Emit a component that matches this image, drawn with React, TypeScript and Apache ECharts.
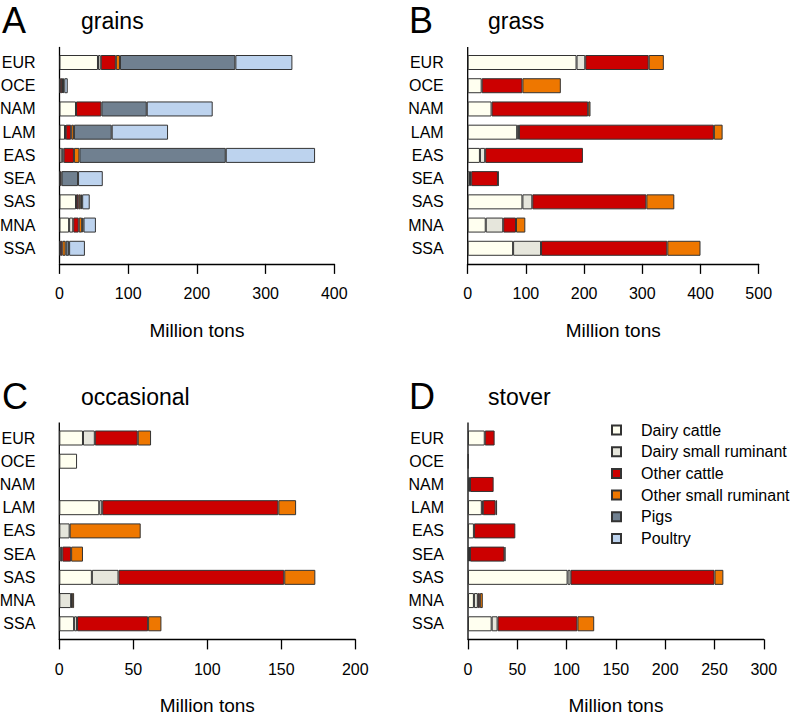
import React, { useEffect, useRef } from "react";
import * as echarts from "echarts";

const regions = ["EUR", "OCE", "NAM", "LAM", "EAS", "SEA", "SAS", "MNA", "SSA"];
const groups = ["Dairy cattle", "Dairy small ruminant", "Other cattle", "Other small ruminant", "Pigs", "Poultry"];
const groupColors = ["#FFFFF0", "#E6E6DC", "#CC0000", "#EE7700", "#708090", "#BDD3EE"];

// grains
const grainsDairyCattle = [56, 1, 24, 8, 4, 1, 24, 14, 1];
const grainsDairySmall = [4, 0, 0, 1, 2, 0, 1, 6, 0];
const grainsOtherCattle = [22, 3, 37, 8, 15, 2, 3, 8, 3];
const grainsOtherSmall = [6, 1, 0, 4, 8, 0, 3, 5, 5];
const grainsPigs = [168, 2, 66, 55, 213, 24, 2, 2, 5];
const grainsPoultry = [83, 5, 96, 82, 130, 36, 11, 18, 23];

// grass
const grassDairyCattle = [187, 24, 41, 85, 21, 4, 94, 31, 78];
const grassDairySmall = [15, 0, 0, 3, 9, 2, 17, 30, 48];
const grassOtherCattle = [109, 70, 166, 335, 168, 46, 196, 22, 217];
const grassOtherSmall = [26, 66, 4, 15, 0, 1, 48, 16, 57];
const grassPigs = [0, 0, 0, 0, 0, 0, 0, 0, 0];
const grassPoultry = [0, 0, 0, 0, 0, 0, 0, 0, 0];

// occasional
const occDairyCattle = [16, 12, 0, 27, 0, 1, 22, 0, 10];
const occDairySmall = [8, 0, 0, 2, 7, 1, 18, 8, 2];
const occOtherCattle = [29, 0, 0, 119, 0, 6, 112, 0.5, 48];
const occOtherSmall = [9, 0, 0, 12, 48, 8, 21, 1.5, 9];
const occPigs = [0, 0, 0, 0, 0, 0, 0, 0, 0];
const occPoultry = [0, 0, 0, 0, 0, 0, 0, 0, 0];

// stover
const stoverDairyCattle = [17, 0.5, 0, 14, 6, 1, 101, 6, 24];
const stoverDairySmall = [0, 0, 2, 1, 0, 1, 3, 4, 6];
const stoverOtherCattle = [10, 0, 24, 13, 42, 35, 146, 2, 81];
const stoverOtherSmall = [0, 0, 0, 1.5, 0, 1, 9, 3, 17];
const stoverPigs = [0, 0, 0, 0, 0, 0, 0, 0, 0];
const stoverPoultry = [0, 0, 0, 0, 0, 0, 0, 0, 0];

const panelLetters = ["A", "B", "C", "D"];
const panelTitles = ["grains", "grass", "occasional", "stover"];
const axisMax = [400, 500, 200, 300];
const axisInterval = [100, 100, 50, 50];
const axisTitle = "Million tons";

const panelData = [
  [grainsDairyCattle, grainsDairySmall, grainsOtherCattle, grainsOtherSmall, grainsPigs, grainsPoultry],
  [grassDairyCattle, grassDairySmall, grassOtherCattle, grassOtherSmall, grassPigs, grassPoultry],
  [occDairyCattle, occDairySmall, occOtherCattle, occOtherSmall, occPigs, occPoultry],
  [stoverDairyCattle, stoverDairySmall, stoverOtherCattle, stoverOtherSmall, stoverPigs, stoverPoultry],
];

// layout (pixels)
const gridBoxes = [
  { left: 59.5, top: 50.9, width: 274.8, height: 209 },
  { left: 467.7, top: 50.9, width: 291, height: 209 },
  { left: 59.3, top: 426.4, width: 296, height: 209 },
  { left: 468, top: 426.4, width: 295.8, height: 209 },
];
const letterPos = [
  { x: 2, y: 2 },
  { x: 409, y: 2 },
  { x: 2, y: 378 },
  { x: 409, y: 378 },
];
const titlePos = [
  { x: 81, y: 9 },
  { x: 488, y: 9 },
  { x: 81, y: 385 },
  { x: 488, y: 385 },
];

const FONT = "'Liberation Sans', Arial, Helvetica, sans-serif";

export default function App() {
  const ref = useRef<HTMLDivElement>(null);
  useEffect(() => {
    if (!ref.current) return;
    const chart = echarts.init(ref.current, null, { renderer: "svg" });

    const grids = gridBoxes.map((g) => ({ ...g, outerBoundsMode: "none", containLabel: false }));
    const xAxes = gridBoxes.map((_, i) => ({
      type: "value",
      gridIndex: i,
      min: 0,
      max: axisMax[i],
      interval: axisInterval[i],
      offset: 4,
      axisLine: { show: true, onZero: false, lineStyle: { color: "#000", width: 1.3 } },
      axisTick: { show: true, inside: false, length: 10, lineStyle: { color: "#000", width: 1.3 } },
      axisLabel: { show: true, color: "#000", fontSize: 16, fontFamily: FONT, margin: 22 },
      splitLine: { show: false },
      name: axisTitle,
      nameLocation: "middle",
      nameGap: 57,
      nameTextStyle: { color: "#000", fontSize: 19, fontFamily: FONT },
    }));
    const yAxes = gridBoxes.map((_, i) => ({
      type: "category",
      gridIndex: i,
      data: regions,
      inverse: true,
      axisLine: { show: false },
      axisTick: { show: false },
      axisLabel: { color: "#000", fontSize: 16, fontFamily: FONT, margin: 24 },
      splitLine: { show: false },
    }));

    const series: any[] = [];
    panelData.forEach((arrs, p) => {
      arrs.forEach((vals, g) => {
        series.push({
          type: "bar",
          name: groups[g],
          stack: "panel" + p,
          xAxisIndex: p,
          yAxisIndex: p,
          barWidth: 15,
          silent: true,
          itemStyle: { color: groupColors[g], borderColor: "#333", borderWidth: 1 },
          data: vals.map((v) => (v === 0 ? "-" : v)),
        });
      });
    });

    const graphic: any[] = [];
    gridBoxes.forEach((g, i) => {
      graphic.push({
        type: "line",
        silent: true,
        shape: { x1: g.left, y1: g.top - 4, x2: g.left, y2: g.top + g.height + 4 },
        style: { stroke: "#000", lineWidth: 1.3 },
      });
      graphic.push({
        type: "text",
        left: letterPos[i].x,
        top: letterPos[i].y,
        style: { text: panelLetters[i], fill: "#000", font: `36px ${FONT}` },
      });
      graphic.push({
        type: "text",
        left: titlePos[i].x,
        top: titlePos[i].y,
        style: { text: panelTitles[i], fill: "#000", font: `23px ${FONT}` },
      });
    });

    chart.setOption({
      animation: false,
      backgroundColor: "#fff",
      grid: grids,
      xAxis: xAxes,
      yAxis: yAxes,
      series,
      graphic,
      legend: {
        data: groups,
        orient: "vertical",
        left: 606,
        top: 417,
        itemWidth: 9,
        itemHeight: 9,
        itemGap: 5.7,
        icon: "rect",
        selectedMode: false,
        textStyle: { color: "#000", fontSize: 16, fontFamily: FONT, lineHeight: 16, padding: [0, 0, 0, 15] },
      },
    });
    return () => chart.dispose();
  }, []);
  return (
    <div
      ref={ref}
      style={{ position: "absolute", left: 0, top: 0, width: 796, height: 721 }}
    />
  );
}
